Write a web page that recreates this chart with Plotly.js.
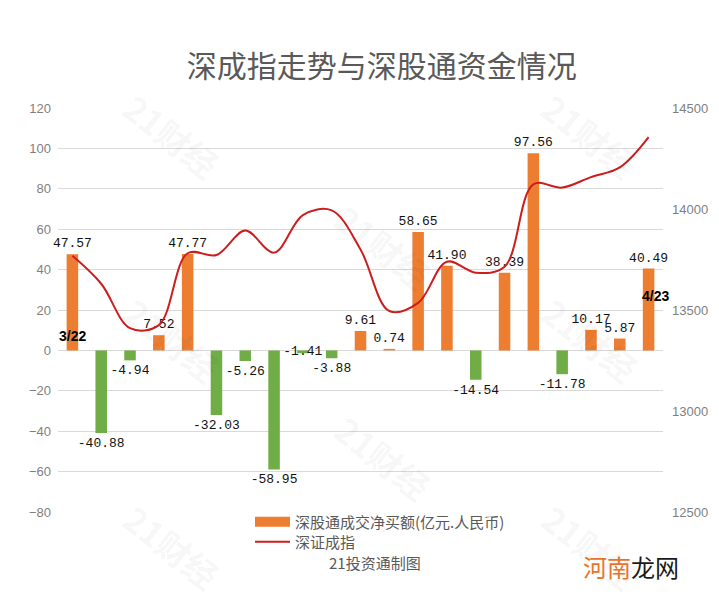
<!DOCTYPE html>
<html>
<head>
<meta charset="utf-8">
<script src="https://cdn.plot.ly/plotly-3.0.1.min.js"></script>
<style>
  html, body { margin: 0; padding: 0; background: #ffffff; }
  #chart { width: 719px; height: 601px; }
</style>
</head>
<body>
<div id="chart"></div>
<script>
// ---- data ----
const tradingDay = [1,2,3,4,5,6,7,8,9,10,11,12,13,14,15,16,17,18,19,20,21];
const netBuy = [47.57, -40.88, -4.94, 7.52, 47.77, -32.03, -5.26, -58.95, -1.41, -3.88,
                9.61, 0.74, 58.65, 41.90, -14.54, 38.39, 97.56, -11.78, 10.17, 5.87, 40.49];
const szIndex = [13768, 13630, 13410, 13425, 13781, 13772, 13893, 13784, 13970, 13993,
                 13800, 13495, 13535, 13739, 13685, 13714, 14122, 14106, 14158, 14206, 14356];
const firstDate = '3/22';
const lastDate = '4/23';
const barName = '深股通成交净买额(亿元.人民币)';
const lineName = '深证成指';
const titleText = '深成指走势与深股通资金情况';
const sourceText = '21投资通制图';

const ORANGE = '#ED7D31', GREEN = '#70AD47', RED = '#CC1E1E';

const barColors = netBuy.map(v => v >= 0 ? ORANGE : GREEN);
const barLabels = netBuy.map(v => v.toFixed(2));
// tiny bars whose label sits over the bar itself in the reference
const labelPos = netBuy.map(v => Math.abs(v) < 2 && v < 0 ? 'inside' : 'outside');

const traces = [
  {
    type: 'bar', x: tradingDay, y: netBuy, name: barName,
    marker: { color: barColors },
    width: 0.4,
    text: barLabels, textposition: labelPos, cliponaxis: false, constraintext: 'none',
    insidetextanchor: 'middle',
    textfont: { family: 'Liberation Mono, DejaVu Sans Mono, monospace', size: 13, color: '#111' },
    showlegend: false, hoverinfo: 'x+y'
  },
  {
    type: 'scatter', mode: 'lines', x: [null], y: [null], name: barName,
    line: { color: ORANGE, width: 10 }, hoverinfo: 'skip', legend: 'legend'
  },
  {
    type: 'scatter', mode: 'lines', x: tradingDay, y: szIndex, name: lineName,
    yaxis: 'y2', line: { color: RED, width: 2, shape: 'spline', smoothing: 1 }, legend: 'legend2'
  }
];

const wm = [[0.188,0.933],[0.537,0.656],[0.879,0.933],[0.188,0.426],[0.537,0.134],[0.879,0.426],[0.188,-0.085],[0.879,-0.085]];
const annotations = wm.map(p => ({
  xref: 'paper', yref: 'paper', x: p[0], y: p[1], xanchor: 'center', yanchor: 'middle',
  text: '<b>21财经</b>', showarrow: false,
  textangle: 38, font: { family: 'Noto Sans CJK SC', size: 34, color: 'rgba(0,0,0,0.05)' }
}));
annotations.push(
  { xref: 'x', yref: 'y', x: tradingDay[0], y: 7.1, text: '<b>' + firstDate + '</b>', showarrow: false,
    xanchor: 'center', yanchor: 'middle',
    font: { family: 'Liberation Sans, Arial', size: 14, color: '#000' } },
  { xref: 'x', yref: 'y', x: tradingDay[tradingDay.length - 1], y: 26.9, xshift: 7, text: '<b>' + lastDate + '</b>', showarrow: false,
    xanchor: 'center', yanchor: 'middle',
    font: { family: 'Liberation Sans, Arial', size: 14, color: '#000' } },
  { xref: 'paper', yref: 'paper', x: 0.524, y: -0.124, xanchor: 'center', yanchor: 'middle',
    text: sourceText, showarrow: false,
    font: { family: 'Noto Sans CJK SC', size: 15, color: '#595959' } },
  { xref: 'paper', yref: 'paper', x: 0.947, y: -0.136, xanchor: 'center', yanchor: 'middle',
    text: '<span style="color:#E8732A">河南</span>龙网', showarrow: false,
    font: { family: 'Noto Sans CJK SC', size: 24, color: '#1a1a1a' } }
);

const legendBase = {
  orientation: 'v', xref: 'paper', yref: 'paper', x: (250 - 58)/605,
  xanchor: 'left', yanchor: 'middle', bgcolor: 'rgba(0,0,0,0)',
  itemwidth: 35, font: { family: 'Noto Sans CJK SC', size: 15, color: '#595959' }
};

const layout = {
  width: 719, height: 601,
  margin: { l: 58, r: 56, t: 108, b: 89, autoexpand: false },
  paper_bgcolor: '#ffffff', plot_bgcolor: '#ffffff',
  font: { family: 'Noto Sans CJK SC, Liberation Sans, sans-serif', color: '#595959' },
  title: {
    text: titleText, xref: 'container', yref: 'container', x: 0.531, y: 1 - 66/601,
    xanchor: 'center', yanchor: 'middle',
    font: { family: 'Noto Sans CJK SC', size: 30, color: '#595959' }
  },
  xaxis: {
    range: [0.5, 21.5], showticklabels: false, showgrid: false, zeroline: false,
    showline: false, ticks: '', fixedrange: true
  },
  yaxis: {
    range: [-80, 120], tick0: 0, dtick: 20, showgrid: true, gridcolor: '#D9D9D9', gridwidth: 1,
    zeroline: false, showline: false, ticks: '', ticklabelstandoff: 6,
    tickfont: { family: 'Liberation Sans, Arial', size: 13, color: '#7F7F7F' }
  },
  yaxis2: {
    overlaying: 'y', side: 'right', range: [12500, 14500], tick0: 12500, dtick: 500,
    tickformat: 'd',
    showgrid: false, zeroline: false, showline: false, ticks: '', ticklabelstandoff: 8,
    tickfont: { family: 'Liberation Sans, Arial', size: 13, color: '#7F7F7F' }
  },
  legend: Object.assign({}, legendBase, { y: (512 - 522)/404 }),
  legend2: Object.assign({}, legendBase, { y: (512 - 542)/404 }),
  bargap: 0.6,
  showlegend: true,
  annotations: annotations
};

Plotly.newPlot('chart', traces, layout, { displayModeBar: false, staticPlot: true });
</script>
</body>
</html>
